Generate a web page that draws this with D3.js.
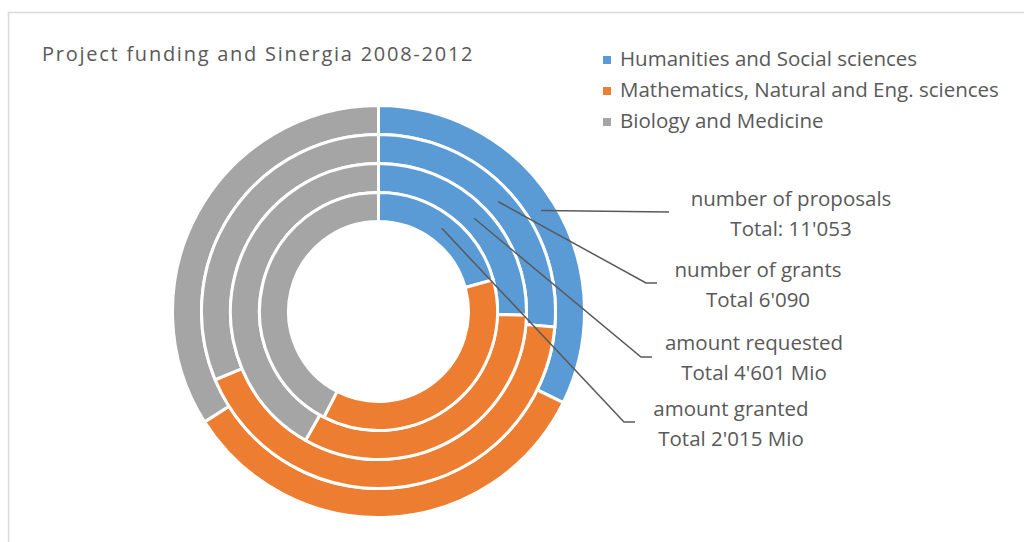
<!DOCTYPE html>
<html>
<head>
<meta charset="utf-8">
<script src="https://cdn.jsdelivr.net/npm/d3@7"></script>
<style>
  body { margin: 0; background: #fff; }
  text { fill: #595959; }
</style>
</head>
<body>
<svg id="chart" width="1024" height="542"></svg>
<script>
'use strict';

// categories (legend order = slice order)
const categories = ["Humanities and Social sciences", "Mathematics, Natural and Eng. sciences", "Biology and Medicine"];
const colors = ["#5b9bd5", "#ed7d31", "#a5a5a5"];

// rings, outer to inner, shares in percent
const ringNames = ["number of proposals", "number of grants", "amount requested", "amount granted"];
const ringTotals = ["Total: 11'053", "Total 6'090", "Total 4'601 Mio", "Total 2'015 Mio"];
const proposals = [32.3, 33.7, 34.0];
const grants = [26.4, 42.3, 31.3];
const requested = [25.4, 32.8, 41.8];
const granted = [20.7, 36.9, 42.4];
const ringValues = [proposals, grants, requested, granted];

(function() {
  const svg = d3.select('#chart');
  const font = 'Open Sans';
  const fontSize = '20.5px';

  // frame
  svg.append('path')
    .attr('d', 'M8.5,542 V12.5 H1024')
    .attr('fill', 'none')
    .attr('stroke', '#d9d9d9')
    .attr('stroke-width', 1.5);

  // title
  svg.append('text')
    .attr('x', 42)
    .attr('y', 61)
    .attr('textLength', 431)
    .style('font-family', font)
    .style('font-size', '20px')
    .style('letter-spacing', '0.5px')
    .text('Project funding and Sinergia 2008-2012');

  // legend
  const legend = svg.append('g').attr('transform', 'translate(603, 0)');
  categories.forEach((c, i) => {
    legend.append('rect')
      .attr('x', 0)
      .attr('y', 56 + i * 31)
      .attr('width', 8)
      .attr('height', 8)
      .attr('fill', colors[i]);
    legend.append('text')
      .attr('x', 17)
      .attr('y', 66 + i * 31)
      .style('font-family', font)
      .style('font-size', fontSize)
      .text(c);
  });

  const cx = 378.5, cy = 311.5;
  const rOuter = 206, rInner = 90;
  const rScale = d3.scaleLinear().domain([0, ringValues.length]).range([rOuter, rInner]);

  const pie = d3.pie().sort(null).value((d) => d);
  const g = svg.append('g').attr('transform', 'translate(' + cx + ',' + cy + ')');

  // label anchors (end of leader line) and text centre
  const labelPos = [
    {lx: 669, ly: 212, tx: 791, ty: 206},
    {lx: 657, ly: 283, tx: 758, ty: 277},
    {lx: 652, ly: 357, tx: 754, ty: 350},
    {lx: 635, ly: 422, tx: 731, ty: 416}
  ];

  ringValues.forEach((vals, ri) => {
    const arc = d3.arc()
      .outerRadius(rScale(ri))
      .innerRadius(rScale(ri + 1));

    const slices = pie(vals);
    g.selectAll('.ring' + ri)
      .data(slices)
      .enter()
      .append('path')
      .attr('class', 'ring' + ri)
      .attr('d', arc)
      .attr('fill', (d, i) => colors[i])
      .attr('stroke', '#fff')
      .attr('stroke-width', 3);
  });

  // leader lines and labels drawn above the rings
  ringValues.forEach((vals, ri) => {
    const arc = d3.arc()
      .outerRadius(rScale(ri))
      .innerRadius(rScale(ri + 1));
    const c = arc.centroid(pie(vals)[0]);
    const p = labelPos[ri];
    const pts = [[cx + c[0], cy + c[1]], [p.lx - 11, p.ly], [p.lx, p.ly]];
    if (ri === 0) pts.splice(1, 1);
    svg.append('path')
      .attr('d', d3.line()(pts))
      .attr('fill', 'none')
      .attr('stroke', '#595959')
      .attr('stroke-width', 1.5);

    const t = svg.append('text')
      .attr('text-anchor', 'middle')
      .style('font-family', font)
      .style('font-size', fontSize);
    t.append('tspan').attr('x', p.tx).attr('y', p.ty).text(ringNames[ri]);
    t.append('tspan').attr('x', p.tx).attr('y', p.ty + 30).text(ringTotals[ri]);
  });
})();
</script>
</body>
</html>
